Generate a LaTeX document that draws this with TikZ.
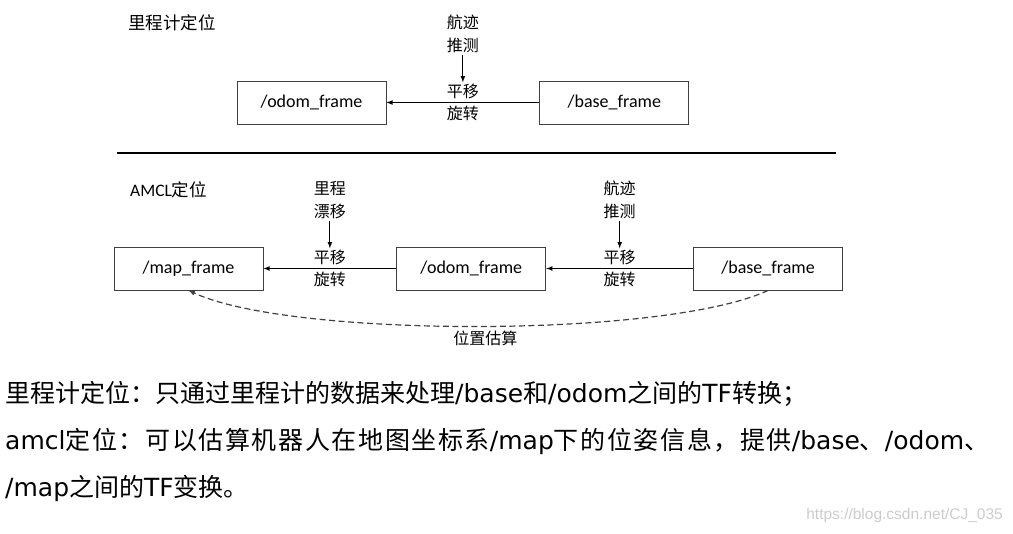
\documentclass[tikz,border=0pt]{standalone}
\usepackage{fontspec}
\setmainfont{Carlito}
\newfontfamily\cjk{Noto Sans CJK SC}
\newfontfamily\cjkwide{Noto Sans CJK SC}[LetterSpace=6.5]
\newfontfamily\engfont{DejaVu Sans}
\newfontfamily\wmfont{Liberation Sans}
\newcommand\eng[1]{{\engfont #1}}
\usetikzlibrary{positioning}

\begin{document}
\begin{tikzpicture}[%
        x=1pt, y=-1pt,
        >=latex,
        frame/.style={draw=black!75, line width=0.8pt, minimum width=149pt,
            minimum height=43pt, font=\fontsize{18}{18}\selectfont},
        tag/.style={font=\cjk\fontsize{16}{23}\selectfont, inner sep=2pt, align=center},
        head/.style={font=\cjk\fontsize{17.5}{20}\selectfont, anchor=west, inner sep=0pt},
        note/.style={font=\cjk\fontsize{25}{24}\selectfont, anchor=base west, inner sep=0pt}
        ]
        \useasboundingbox (0,0) rectangle (1013,534);

        % odometry only
        \node[head] (head1) at (128,23) {里程计定位};
        \node[frame] (odom1) at (311.5,102.5) {/odom\_frame};
        \node[frame, right=153pt of odom1] (base1) {/base\_frame};
        \path (base1) -- node[tag, above=1pt] (move1) {平移} node[tag, below=1pt] (turn1) {旋转} (odom1);
        \node[tag, above=27pt of move1] (src1) {航迹\\推测};
        \draw[->, line width=1.1pt] (base1) -- (odom1);
        \draw[->, line width=1.1pt] (src1) -- (move1);

        % separator
        \coordinate (cutl) at (117,153);
        \coordinate (cutr) at (836,153);
        \draw[line width=1.4pt] (cutl) -- (cutr);

        % amcl
        \node[head] (head2) at (130,190) {{\rmfamily AMCL}定位};
        \node[frame] (map2) at (188.5,268.5) {/map\_frame};
        \node[frame, right=133pt of map2] (odom2) {/odom\_frame};
        \node[frame, right=147pt of odom2] (base2) {/base\_frame};
        \path (odom2) -- node[tag, above=1pt] (move2) {平移} node[tag, below=1pt] (turn2) {旋转} (map2);
        \path (base2) -- node[tag, above=1pt] (move3) {平移} node[tag, below=1pt] (turn3) {旋转} (odom2);
        \node[tag, above=27pt of move2] (src2) {里程\\漂移};
        \node[tag, above=27pt of move3] (src3) {航迹\\推测};
        \draw[->, line width=1.1pt] (odom2) -- (map2);
        \draw[->, line width=1.1pt] (base2) -- (odom2);
        \draw[->, line width=1.1pt] (src2) -- (move2);
        \draw[->, line width=1.1pt] (src3) -- (move3);
        % pose estimate
        \draw[->, dash pattern=on 6pt off 3.5pt, line width=1.2pt, black!75] (base2.south)
            to[out=205, in=-25, looseness=0.5]
            node[tag, text=black, below=2pt, pos=0.49] (guess) {位置估算} (map2.south);

        % text below
        \node[note] (line1) at (5,403) {里程计定位：只通过里程计的数据来处理\eng{/base}和\eng{/odom}之间的\eng{TF}转换；};
        \node[note, font=\cjkwide\fontsize{25}{24}\selectfont] (line2) at (5,450)
            {\eng{amcl}定位：可以估算机器人在地图坐标系\eng{/map}下的位姿信息，提供\eng{/base}、\eng{/odom}、};
        \node[note] (line3) at (5,497) {\eng{/map}之间的\eng{TF}变换。};
        \node[font=\wmfont\fontsize{15.5}{16}\selectfont, text=black!20, anchor=east, inner sep=0pt]
            (mark) at (1003,515) {https://blog.csdn.net/CJ\_035};
\end{tikzpicture}
\end{document}
